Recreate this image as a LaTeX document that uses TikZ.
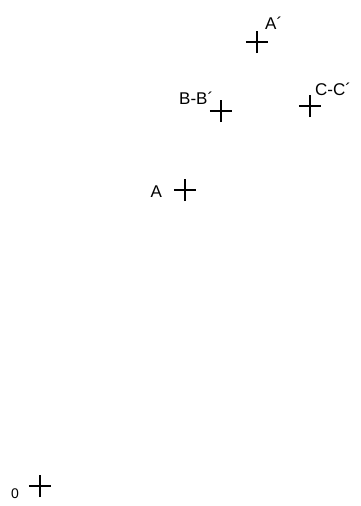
\documentclass[tikz,border=0pt]{standalone}
\usepackage{fontspec}
\setmainfont{Liberation Sans}
\usetikzlibrary{shapes.misc}

\begin{document}
\begin{tikzpicture}[x=1pt,y=-1pt,
  plus/.style={cross out,draw,rotate=45,minimum size=14pt,inner sep=0pt,line width=1.8pt},
  lbl/.style={font=\fontsize{17}{20}\selectfont,inner sep=0pt,anchor=base west}]
  \useasboundingbox (0,0) rectangle (360,506);
  % markers
  \node[plus] (pa2) at (257,42) {};
  \node[plus] (pb) at (221,111) {};
  \node[plus] (pc) at (310,106) {};
  \node[plus] (pa) at (185,190) {};
  \node[plus] (po) at (40,486) {};
  % labels
  \node[lbl] (la2) at (265,29) {A´};
  \node[lbl] (lb) at (179,104) {B-B´};
  \node[lbl] (lc) at (315,95) {C-C´};
  \node[lbl] (la) at (150.5,197) {A};
  \node[lbl,font=\fontsize{14}{16}\selectfont] (lo) at (11,498) {0};
\end{tikzpicture}
\end{document}
